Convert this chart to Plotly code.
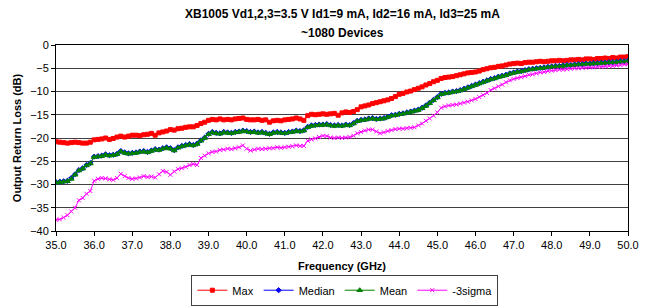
import plotly.graph_objects as go

freq = [round(35.0 + 0.1 * i, 1) for i in range(151)]

max_db = [
    -20.8, -20.9, -21.0, -21.1, -21.0, -20.9, -21.0, -21.1, -21.1, -20.9,
    -20.4, -20.3, -20.2, -20.0, -20.3, -20.1, -19.8, -19.6, -19.8, -19.6,
    -19.4, -19.4, -19.5, -19.3, -19.2, -19.0, -19.4, -18.9, -18.7, -18.5,
    -18.2, -18.3, -18.0, -17.9, -17.7, -17.6, -17.6, -17.3, -16.9, -16.6,
    -16.2, -16.0, -16.1, -15.9, -16.1, -16.0, -16.1, -15.9, -15.8, -15.7,
    -16.0, -16.1, -16.1, -16.0, -16.2, -16.1, -16.6, -16.3, -16.2, -16.3,
    -16.1, -16.0, -15.9, -15.7, -15.9, -16.2, -15.2, -14.9, -15.0, -14.9,
    -14.8, -14.9, -14.8, -14.7, -15.1, -14.6, -14.4, -14.5, -14.3, -13.9,
    -13.3, -13.1, -12.9, -12.6, -12.4, -12.2, -12.0, -11.8, -11.5, -11.1,
    -10.6, -10.4, -10.1, -9.9, -9.6, -9.3, -9.0, -8.6, -8.3, -7.9,
    -7.6, -7.2, -7.0, -6.9, -6.8, -6.6, -6.4, -6.2, -6.0, -5.9,
    -5.8, -5.6, -5.3, -5.1, -4.9, -4.8, -4.6, -4.5, -4.3, -4.1,
    -4.0, -3.9, -4.0, -3.8, -3.7, -3.7, -3.6, -3.5, -3.6, -3.5,
    -3.4, -3.4, -3.3, -3.4, -3.3, -3.2, -3.2, -3.1, -3.2, -3.0,
    -3.0, -3.1, -2.9, -2.9, -2.8, -2.9, -2.7, -2.8, -2.6, -2.6,
    -2.5,
]

median_db = [
    -29.5, -29.4, -29.3, -29.2, -28.6, -27.8, -26.9, -26.5, -25.8, -25.4,
    -24.0, -23.9, -23.8, -23.5, -23.7, -23.6, -23.4, -22.8, -23.1, -23.3,
    -23.2, -23.1, -22.9, -22.8, -23.0, -22.7, -22.4, -22.5, -22.2, -22.0,
    -22.2, -22.6, -22.0, -21.7, -21.5, -21.3, -21.5, -21.2, -20.5, -19.9,
    -19.1, -18.7, -18.9, -19.0, -18.7, -18.8, -18.9, -18.7, -18.6, -18.4,
    -18.5, -18.7, -18.6, -18.8, -18.7, -18.9, -19.1, -18.8, -18.7, -18.8,
    -18.9, -18.7, -18.6, -18.4, -18.5, -18.3, -17.6, -17.3, -17.2, -17.1,
    -17.1, -17.0, -17.2, -17.3, -17.2, -17.3, -17.1, -17.2, -16.8, -16.3,
    -16.1, -16.0, -15.8, -15.7, -15.9, -15.8, -15.7, -15.4, -15.1, -15.0,
    -14.8, -14.7, -14.5, -14.3, -14.1, -13.9, -13.5, -13.0, -12.4, -11.8,
    -11.2, -10.5, -10.3, -10.2, -10.0, -9.9, -9.7, -9.4, -9.1, -8.8,
    -8.5, -8.2, -7.9, -7.6, -7.3, -7.1, -6.8, -6.6, -6.4, -6.1,
    -5.9, -5.7, -5.6, -5.4, -5.2, -5.1, -5.0, -4.9, -4.8, -4.7,
    -4.6, -4.5, -4.5, -4.4, -4.3, -4.3, -4.2, -4.1, -4.1, -4.0,
    -4.0, -3.9, -3.9, -3.8, -3.8, -3.7, -3.7, -3.6, -3.5, -3.5,
    -3.4,
]

mean_db = [
    -29.6, -29.5, -29.4, -29.3, -28.8, -27.9, -27.0, -26.6, -25.9, -25.5,
    -24.1, -24.0, -23.9, -23.6, -23.8, -23.7, -23.5, -22.9, -23.2, -23.4,
    -23.3, -23.2, -23.0, -22.9, -23.1, -22.8, -22.5, -22.6, -22.3, -22.1,
    -22.3, -22.7, -22.1, -21.8, -21.6, -21.4, -21.6, -21.3, -20.6, -20.0,
    -19.2, -18.8, -19.0, -19.1, -18.8, -18.9, -19.0, -18.8, -18.7, -18.5,
    -18.6, -18.8, -18.7, -18.9, -18.8, -19.0, -19.2, -18.9, -18.8, -18.9,
    -19.0, -18.8, -18.7, -18.5, -18.6, -18.4, -17.7, -17.4, -17.3, -17.2,
    -17.2, -17.1, -17.3, -17.4, -17.3, -17.4, -17.2, -17.3, -16.9, -16.4,
    -16.2, -16.1, -15.9, -15.8, -16.0, -15.9, -15.8, -15.5, -15.2, -15.1,
    -14.9, -14.8, -14.6, -14.4, -14.2, -14.0, -13.6, -13.1, -12.5, -11.9,
    -11.3, -10.6, -10.4, -10.3, -10.1, -10.0, -9.8, -9.5, -9.2, -8.9,
    -8.6, -8.3, -8.0, -7.7, -7.4, -7.2, -6.9, -6.7, -6.5, -6.2,
    -6.0, -5.8, -5.7, -5.5, -5.3, -5.2, -5.1, -5.0, -4.9, -4.8,
    -4.7, -4.6, -4.6, -4.5, -4.4, -4.4, -4.3, -4.2, -4.2, -4.1,
    -4.1, -4.0, -4.0, -3.9, -3.9, -3.8, -3.8, -3.7, -3.6, -3.6,
    -3.5,
]

minus3sigma_db = [
    -37.6, -37.5, -37.1, -36.6, -35.8, -35.0, -33.4, -32.9, -32.0, -31.4,
    -29.2, -28.8, -28.6, -28.7, -28.9, -29.0, -28.6, -27.7, -28.2, -28.6,
    -28.8, -28.7, -28.5, -28.2, -28.4, -28.3, -28.5, -27.8, -27.1, -27.3,
    -27.9, -27.2, -26.7, -26.5, -26.2, -25.8, -25.6, -25.8, -24.3, -23.8,
    -23.3, -23.0, -22.9, -22.6, -22.5, -22.3, -22.4, -22.2, -22.0, -21.6,
    -22.3, -22.7, -22.5, -22.3, -22.4, -22.3, -22.2, -22.2, -22.0, -22.1,
    -22.0, -21.9, -21.8, -21.6, -21.7, -21.7, -20.6, -20.3, -20.1, -19.8,
    -19.5, -19.6, -19.9, -20.0, -19.9, -20.0, -19.9, -19.8, -19.5, -19.0,
    -18.7, -18.4, -18.2, -18.2, -18.6, -19.0, -18.8, -18.5, -18.3, -18.1,
    -18.0, -18.0, -17.9, -17.8, -17.7, -17.3, -16.9, -16.3, -15.8, -15.2,
    -14.5, -13.5, -13.2, -13.0, -12.9, -12.8, -12.6, -12.4, -12.2, -11.9,
    -11.6, -11.2, -10.8, -10.3, -9.7, -9.3, -8.9, -8.5, -8.0, -7.6,
    -7.3, -7.1, -6.9, -6.7, -6.4, -6.3, -6.1, -5.9, -5.8, -5.6,
    -5.5, -5.4, -5.3, -5.3, -5.2, -5.1, -5.0, -5.0, -4.9, -4.9,
    -4.8, -4.8, -4.7, -4.7, -4.6, -4.5, -4.5, -4.4, -4.3, -4.2,
    -4.1,
]

title_lines = [
    "XB1005 Vd1,2,3=3.5 V Id1=9 mA, Id2=16 mA, Id3=25 mA",
    "~1080 Devices",
]

series = [
    ("Max", max_db, "#ff0000", "square", 4),
    ("Median", median_db, "#0000ff", "diamond", 4),
    ("Mean", mean_db, "#008000", "triangle-up", 5),
    ("-3sigma", minus3sigma_db, "#ff00ff", "x-thin", 4),
]

fig = go.Figure()
for name, vals, color, sym, size in series:
    fig.add_trace(go.Scatter(
        x=freq, y=vals, name=name, mode="lines+markers",
        line=dict(color=color, width=1),
        marker=dict(symbol=sym, size=size, color=color,
                    line=dict(color=color, width=1)),
    ))

FONT = "Liberation Sans, Arial, sans-serif"

for txt, yy in zip(title_lines, [1.167, 1.065]):
    fig.add_annotation(
        text="<b>" + txt + "</b>", xref="paper", yref="paper",
        x=0.5, y=yy, xanchor="center", yanchor="middle", showarrow=False,
        font=dict(family=FONT, size=12, color="black"),
    )

fig.update_layout(
    width=653, height=307,
    margin=dict(l=56, r=25, t=45, b=76, autoexpand=False),
    paper_bgcolor="white", plot_bgcolor="white",
    font=dict(family=FONT, size=11, color="black"),
    showlegend=True,
    legend=dict(
        orientation="h", x=0.505, xanchor="center", y=-0.235, yanchor="top",
        bordercolor="#404040", borderwidth=1,
        font=dict(family=FONT, size=11),
        itemwidth=30, tracegroupgap=0,
    ),
)

fig.update_xaxes(
    range=[35, 50], dtick=1, tick0=35, tickformat=".1f",
    showgrid=False, zeroline=False, automargin=False,
    showline=True, linecolor="black", linewidth=1, mirror=True,
    ticks="outside", ticklen=4, tickcolor="black",
    tickfont=dict(family=FONT, size=11),
    title=dict(text="<b>Frequency (GHz)</b>", standoff=12,
               font=dict(family=FONT, size=11)),
)
fig.update_yaxes(
    range=[-40, 0], dtick=5, tick0=-40,
    showgrid=True, gridcolor="#404040", gridwidth=1, zeroline=False,
    automargin=False,
    showline=True, linecolor="black", linewidth=1, mirror=True,
    ticks="outside", ticklen=4, tickcolor="black",
    tickfont=dict(family=FONT, size=11),
    title=dict(text="<b>Output Return Loss (dB)</b>", standoff=6,
               font=dict(family=FONT, size=11)),
)

fig.write_html(
    "out.html",
    config={"displayModeBar": False},
    post_script="document.body.style.margin='0';document.body.style.overflow='hidden';",
)
